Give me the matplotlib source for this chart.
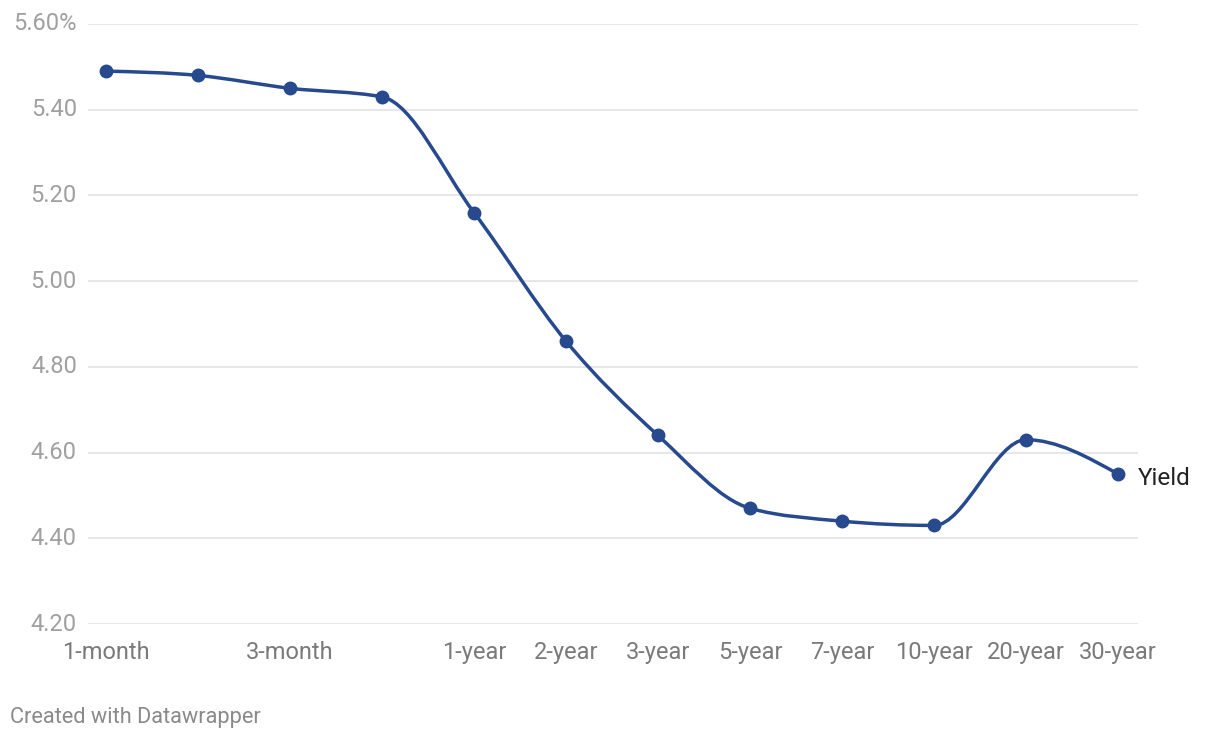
import numpy as np
import matplotlib
matplotlib.use('Agg')
import matplotlib.pyplot as plt
from matplotlib.path import Path
from matplotlib.patches import PathPatch
from matplotlib.transforms import offset_copy

# Data
maturities = ['1-month', '2-month', '3-month', '6-month', '1-year', '2-year',
               '3-year', '5-year', '7-year', '10-year', '20-year', '30-year']
yields = [5.49, 5.48, 5.45, 5.43, 5.16, 4.86, 4.64, 4.47, 4.44, 4.43, 4.63, 4.55]
shown_labels = ['1-month', '3-month', '1-year', '2-year', '3-year', '5-year',
                '7-year', '10-year', '20-year', '30-year']
y_ticks = [4.20, 4.40, 4.60, 4.80, 5.00, 5.20, 5.40, 5.60]

LINE_COLOR = '#27498d'
GRID_COLOR = '#e3e3e3'
plt.rcParams['font.family'] = ['Roboto', 'DejaVu Sans']


def monotone_path(x, y):
    # same tangents as d3.curveMonotoneX, then cubic bezier segments
    x = np.asarray(x, float)
    y = np.asarray(y, float)
    n = len(x)
    h = np.diff(x)
    s = np.diff(y) / h
    t = np.zeros(n)
    for i in range(1, n - 1):
        p = (s[i - 1] * h[i] + s[i] * h[i - 1]) / (h[i - 1] + h[i])
        t[i] = (np.sign(s[i - 1]) + np.sign(s[i])) * min(abs(s[i - 1]), abs(s[i]), 0.5 * abs(p))
    t[0] = (3 * s[0] - t[1]) / 2
    t[-1] = (3 * s[-1] - t[-2]) / 2
    verts = [(x[0], y[0])]
    codes = [Path.MOVETO]
    for i in range(n - 1):
        dx = h[i] / 3
        verts += [(x[i] + dx, y[i] + dx * t[i]),
                  (x[i + 1] - dx, y[i + 1] - dx * t[i + 1]),
                  (x[i + 1], y[i + 1])]
        codes += [Path.CURVE4] * 3
    return Path(verts, codes)


def main():
    fig = plt.figure(figsize=(12.2, 7.4), dpi=100)
    ax = fig.add_axes([88 / 1220, 1 - 624 / 740, 1050 / 1220, 600 / 740])

    xs = np.arange(len(maturities))
    ax.set_xlim(-18 / 92, 11 + 20 / 92)
    ax.set_ylim(4.20, 5.60)

    for v in y_ticks:
        ax.axhline(v, color=GRID_COLOR, lw=1.2, zorder=0)

    path = monotone_path(xs, yields)
    ax.add_patch(PathPatch(path, facecolor='none', edgecolor=LINE_COLOR, lw=2.5,
                           capstyle='round', joinstyle='round', zorder=2))
    ax.plot(xs, yields, 'o', color=LINE_COLOR, markersize=9, zorder=3)

    label_tr = offset_copy(ax.transData, fig=fig, x=0, y=-4, units='dots')
    ax.text(11 + 20 / 92, yields[-1], 'Yield', fontsize=17.5, color='#222222',
            va='center', ha='left', transform=label_tr)

    for sp in ax.spines.values():
        sp.set_visible(False)
    ax.set_yticks(y_ticks)
    ax.set_yticklabels([f'{v:.2f}%' if v == y_ticks[-1] else f'{v:.2f}' for v in y_ticks])
    ax.tick_params(axis='y', length=0, pad=8, labelsize=17, labelcolor='#a0a0a0')
    for lbl in ax.get_yticklabels():
        lbl.set_verticalalignment('center')

    tick_pos = [maturities.index(m) for m in shown_labels]
    ax.set_xticks(tick_pos)
    ax.set_xticklabels(shown_labels)
    ax.tick_params(axis='x', length=0, pad=12, labelsize=17, labelcolor='#7a7a7a')

    fig.text(10 / 1220, 1 - 717 / 740, 'Created with Datawrapper', fontsize=15.7,
             color='#8a8a8a', ha='left', va='center')

    fig.savefig('out.png', dpi=100, facecolor='white')


if __name__ == '__main__':
    main()
